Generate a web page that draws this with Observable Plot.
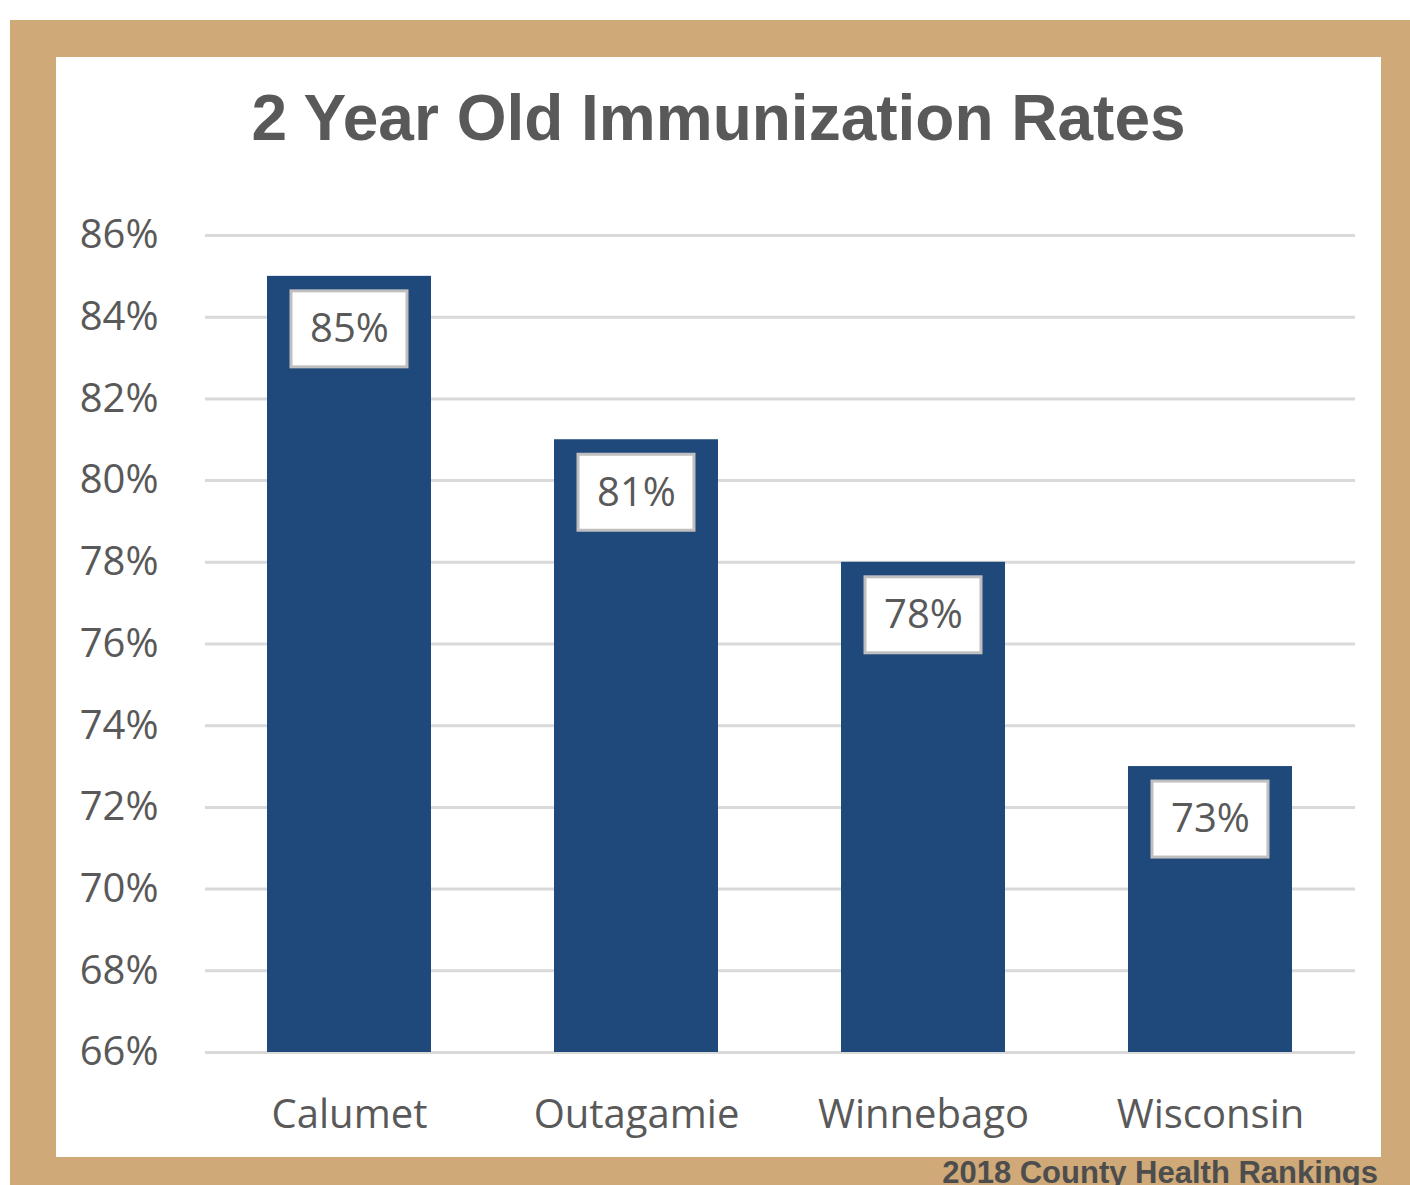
<!DOCTYPE html>
<html>
<head>
<meta charset="utf-8">
<script src="https://cdn.jsdelivr.net/npm/d3@7"></script>
<script src="https://cdn.jsdelivr.net/npm/@observablehq/plot@0.6"></script>
<style>
  html, body { margin: 0; padding: 0; background: #ffffff; overflow: hidden; width: 1410px; height: 1185px; }
  #frame { position: absolute; left: 10px; top: 20px; width: 1400px; height: 1170px; background: #cfa978; }
  #panel { position: absolute; left: 56px; top: 57px; width: 1325px; height: 1100px; background: #ffffff; }
  #title { position: absolute; left: 56px; top: 86px; width: 1325px; text-align: center;
           font-family: "Liberation Sans", Arial, sans-serif; font-weight: bold; font-size: 64px;
           line-height: 64px; color: #595959; }
  #chart { position: absolute; left: 56px; top: 180px; }
  #caption { position: absolute; right: 32px; top: 1157px; font-family: "Liberation Sans", Arial, sans-serif;
             font-weight: bold; font-size: 31px; line-height: 31px; color: #4d4d4d; white-space: nowrap; }
</style>
</head>
<body>
<div id="frame"></div>
<div id="panel"></div>
<div id="title">2 Year Old Immunization Rates</div>
<div id="chart"></div>
<div id="caption">2018 County Health Rankings</div>
<script>
const categories = ["Calumet", "Outagamie", "Winnebago", "Wisconsin"];
const rates = [85, 81, 78, 73];
const yTicks = [66, 68, 70, 72, 74, 76, 78, 80, 82, 84, 86];

const data = categories.map((c, i) => ({category: c, value: rates[i]}));
const baseline = yTicks[0];

const chart = Plot.plot({
  width: 1325,
  height: 977,
  marginLeft: 149,
  marginRight: 26,
  marginTop: 55,
  marginBottom: 105,
  style: {fontFamily: "'Open Sans', sans-serif", fontSize: "40px", color: "#595959", background: "transparent"},
  x: {domain: categories, paddingInner: 0.427, paddingOuter: 0.2135, label: null, tickSize: 0, tickPadding: 47},
  y: {domain: [yTicks[0], yTicks[yTicks.length - 1]], ticks: yTicks, tickFormat: d => d + "%", label: null, tickSize: 0, tickPadding: 47},
  marks: [
    Plot.ruleY(yTicks, {stroke: "#d9d9d9", strokeWidth: 3}),
    Plot.barY(data, {x: "category", y1: () => baseline, y2: "value", fill: "#20497b"}),
    Plot.rect(data, {x: "category", y1: "value", y2: "value", insetLeft: 24, insetRight: 24,
                     insetTop: -38, insetBottom: -38, dy: 53, fill: "#ffffff", stroke: "#bfbfbf", strokeWidth: 3}),
    Plot.text(data, {x: "category", y: "value", dy: 53, text: d => d.value + "%", fill: "#595959", fontSize: 40})
  ]
});
document.getElementById("chart").appendChild(chart);
</script>
</body>
</html>
